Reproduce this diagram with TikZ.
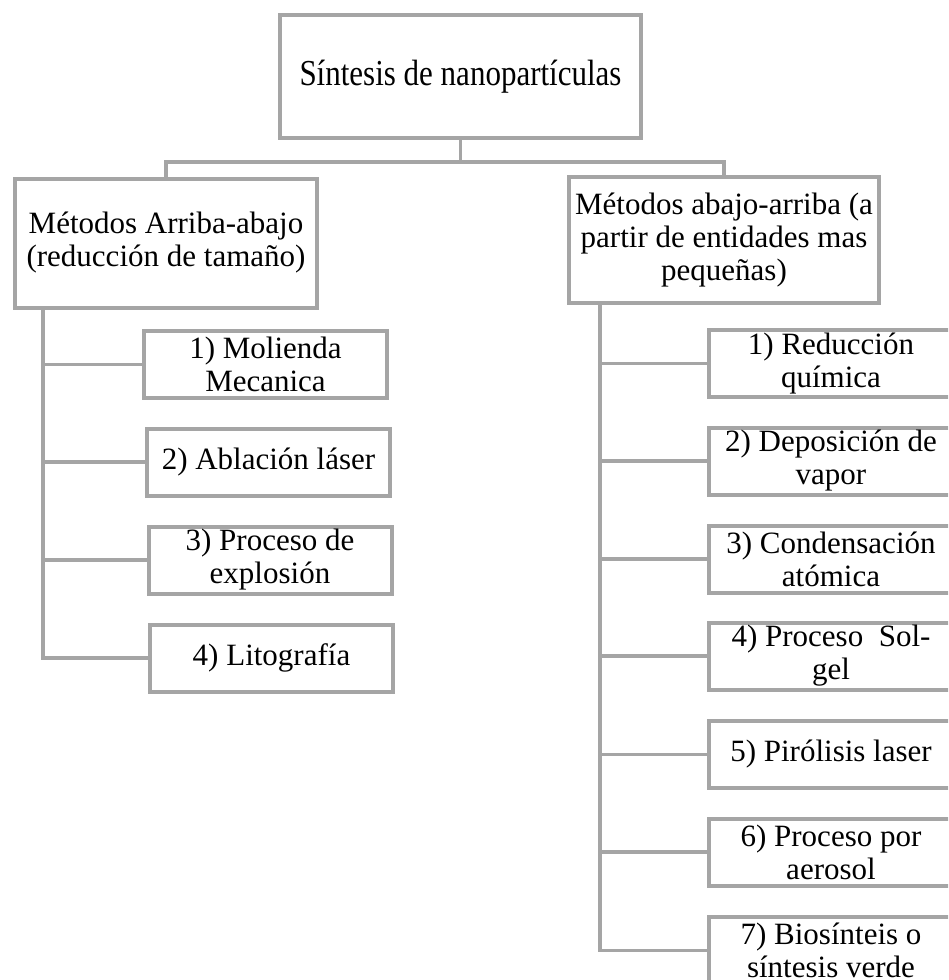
\documentclass[tikz,border=0pt]{standalone}
\usepackage{graphicx}
\usepackage{fontspec}
\setmainfont{Liberation Serif}
\definecolor{gris}{RGB}{165,165,165}
\begin{document}
\begin{tikzpicture}[x=1pt,y=-1pt,
	caja/.style={draw=gris,line width=4pt,minimum width=243pt,minimum height=67pt,inner sep=0pt,align=center,font=\fontsize{31}{33}\selectfont},
	linea/.style={draw=gris,line width=3.5pt}]
			\clip (0,0) rectangle (948,980);
			\node[caja,minimum width=361pt,minimum height=123pt] (sintesis) at (460.5,76.5) {\scalebox{1}[1.18]{Síntesis de nanopartículas}};
			\node[caja,minimum width=302pt,minimum height=129pt] (arriba) at (166,243) {Métodos Arriba-abajo\\(reducción de tamaño)};
			\node[caja,minimum width=310pt,minimum height=126pt] (abajo) at (724,240) {Métodos abajo-arriba (a\\partir de entidades mas\\pequeñas)};
			% arriba-abajo
			\node[caja] (a1) at (265.5,364.5) {1) Molienda\\Mecanica};
			\node[caja] (a2) at (268.5,462) {2) Ablación láser};
			\node[caja] (a3) at (270,560) {3) Proceso de\\explosión};
			\node[caja] (a4) at (271.5,658) {4) Litografía};
			% abajo-arriba
			\node[caja,minimum width=245pt] (b1) at (831,363.5) {1) Reducción\\química};
			\node[caja,minimum width=245pt] (b2) at (831,461) {2) Deposición de\\vapor};
			\node[caja,minimum width=245pt] (b3) at (831,559) {3) Condensación\\atómica};
			\node[caja,minimum width=245pt] (b4) at (831,656) {4) Proceso~ Sol-\\gel};
			\node[caja,minimum width=245pt] (b5) at (831,754.5) {5) Pirólisis laser};
			\node[caja,minimum width=245pt] (b6) at (831,852) {6) Proceso por\\aerosol};
			\node[caja,minimum width=245pt] (b7) at (831,950.5) {7) Biosínteis o\\síntesis verde};
			% conectores
			\draw[linea] (sintesis.south) -- ++(0,22) coordinate (bus) -| (arriba.north);
			\draw[linea] (bus) -| (abajo.north);
			\coordinate (tA) at (43,0);
			\coordinate (tB) at (600,0);
			\draw[linea] (tA |- arriba.south) |- (a4.west);
			\foreach \n in {a1,a2,a3}
				\draw[linea] (tA |- \n.west) -- (\n.west);
			\draw[linea] (tB |- abajo.south) |- (b7.west);
			\foreach \n in {b1,b2,b3,b4,b5,b6}
				\draw[linea] (tB |- \n.west) -- (\n.west);
\end{tikzpicture}
\end{document}
